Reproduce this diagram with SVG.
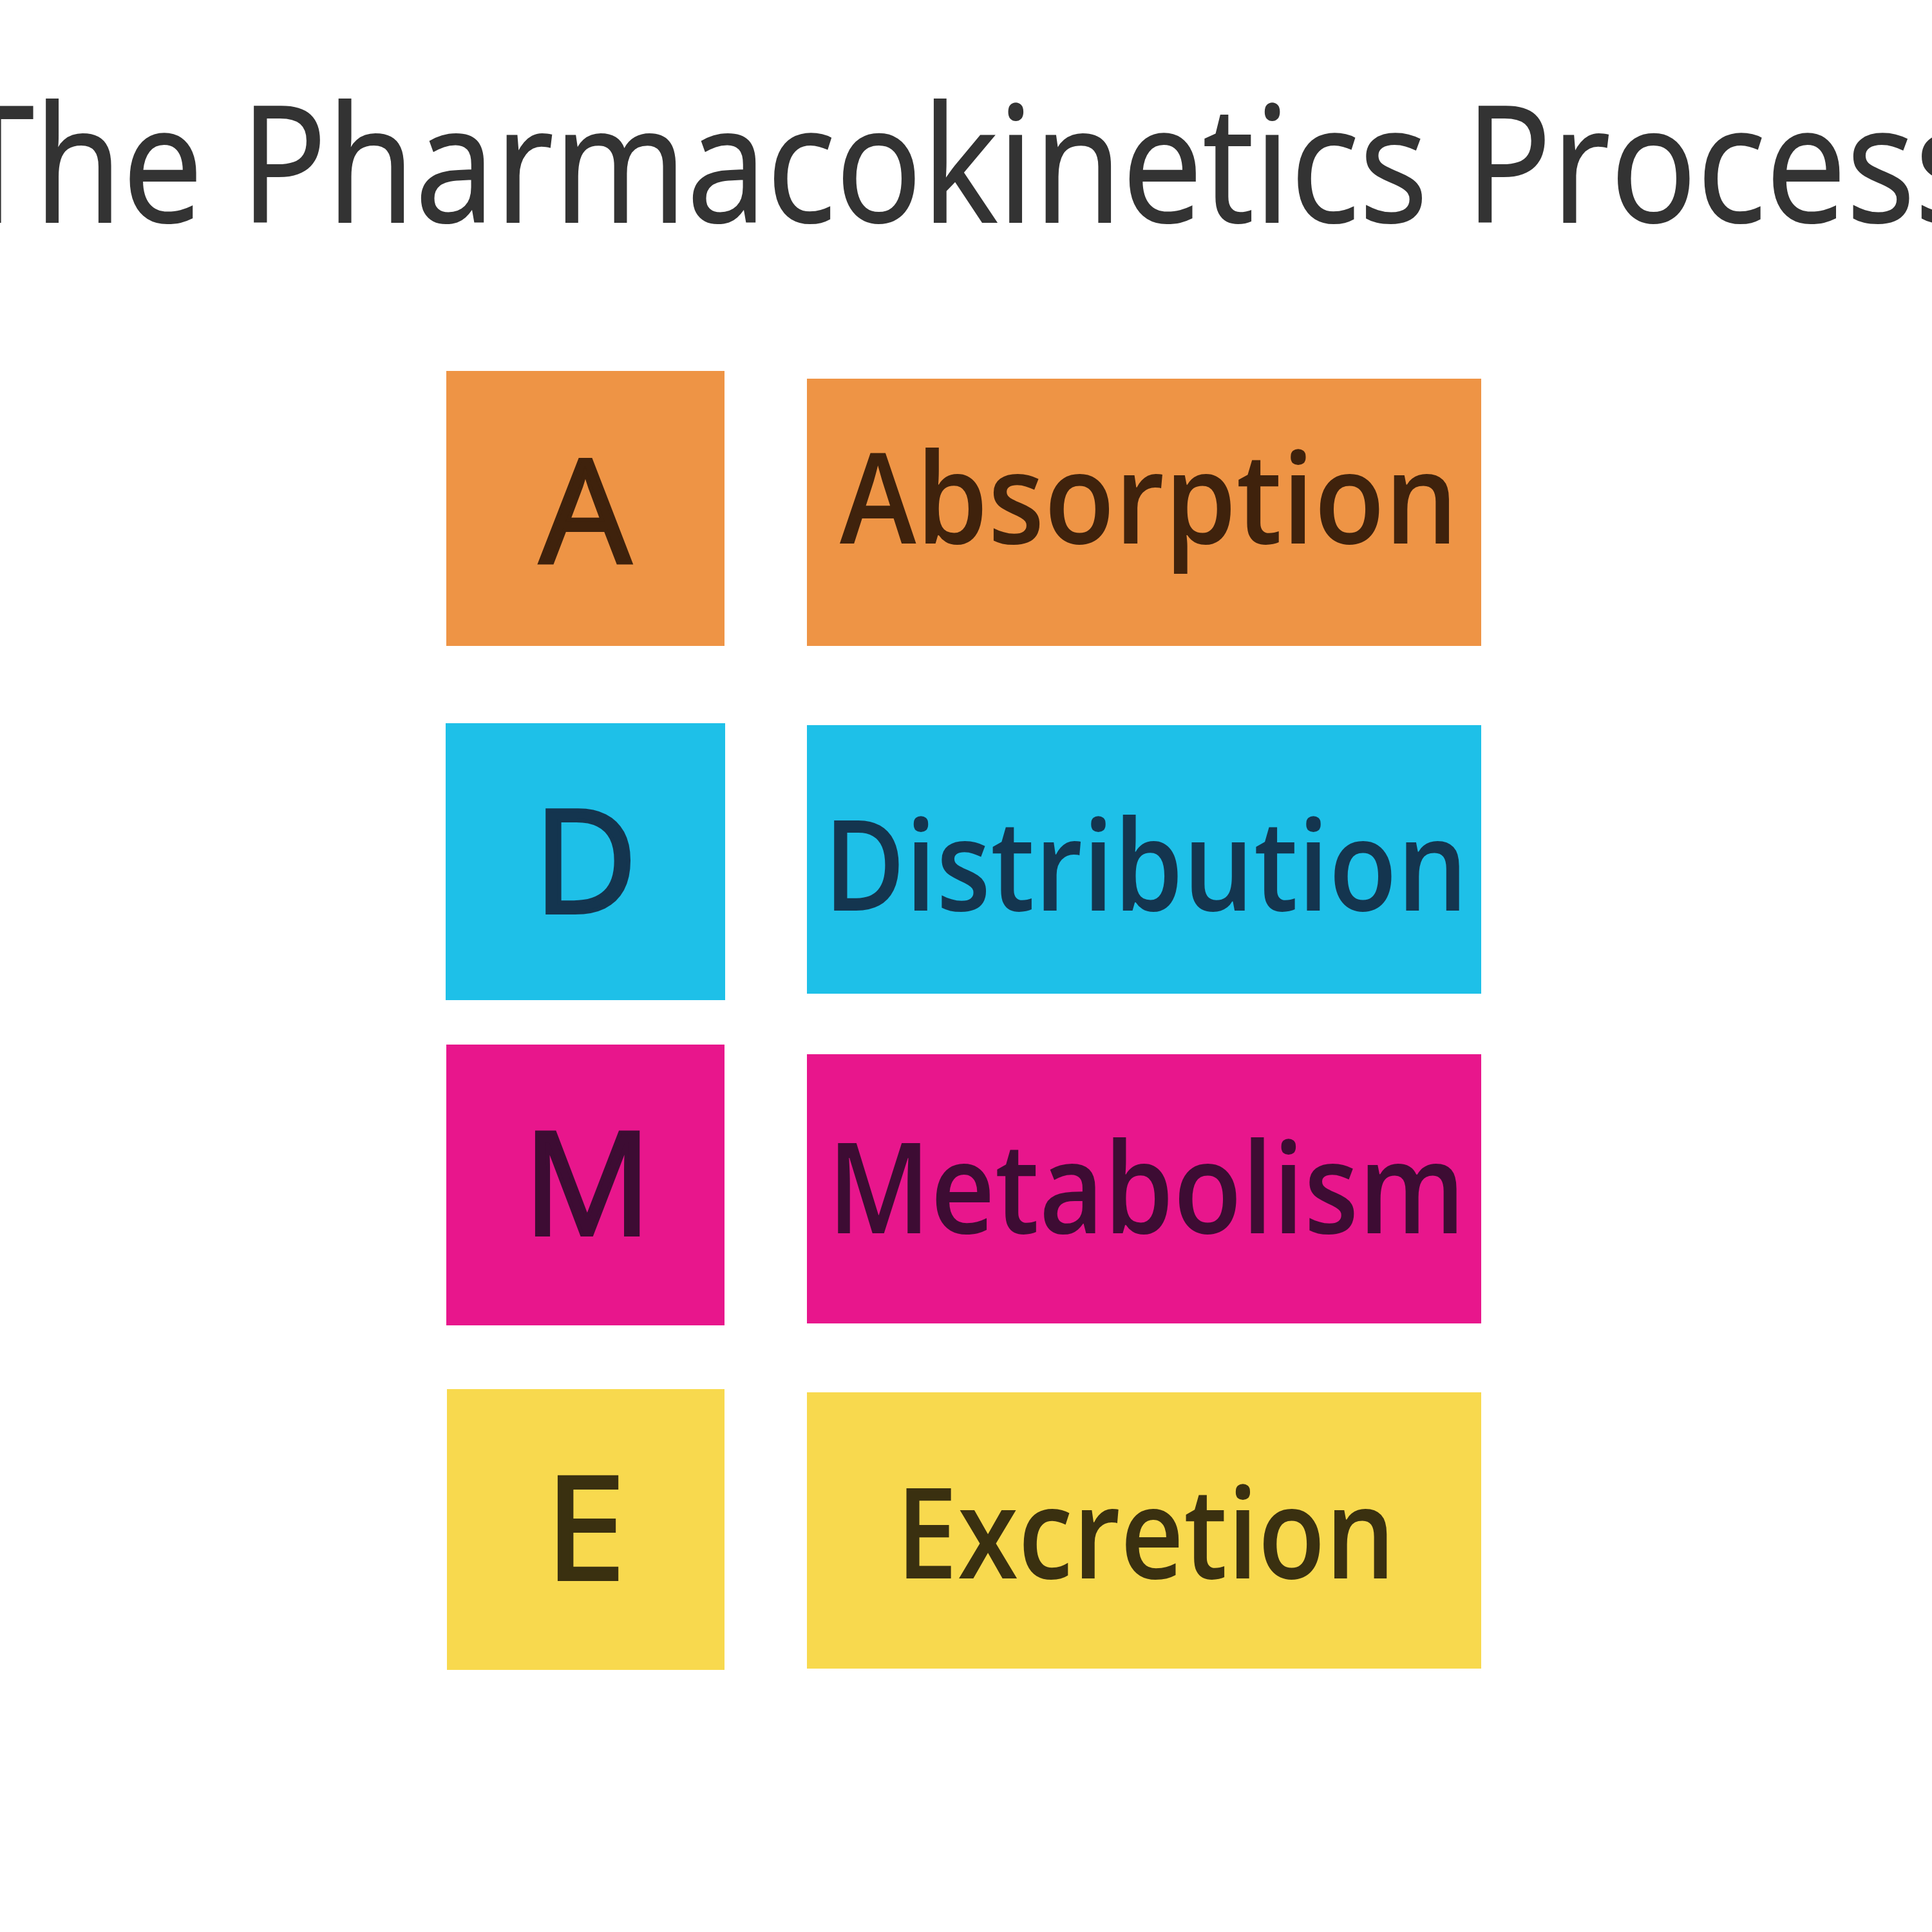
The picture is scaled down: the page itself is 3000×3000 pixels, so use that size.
<svg xmlns="http://www.w3.org/2000/svg" width="3000" height="3000" viewBox="0 0 3000 3000">
  <style>
    .title { font-family: "Open Sans", "Noto Sans", "Liberation Sans", sans-serif; font-size: 252px; fill: #333333; stroke: #333333; stroke-width: 2px; }
    .letter { font-family: "Open Sans", "Noto Sans", "Liberation Sans", sans-serif; font-size: 222px; font-weight: 400; text-anchor: middle; stroke-width: 6px; }
    .label { font-family: "Open Sans", "Noto Sans", "Liberation Sans", sans-serif; font-size: 196px; font-weight: 600; text-anchor: middle; }
    .orange { fill: #EE9445; }
    .cyan { fill: #1EC0E8; }
    .magenta { fill: #E8168C; }
    .yellow { fill: #F8D94E; }
    .tA { fill: #3f220c; stroke: #3f220c; }
    .tD { fill: #14354f; stroke: #14354f; }
    .tM { fill: #3d0c33; stroke: #3d0c33; }
    .tE { fill: #3a3010; stroke: #3a3010; }
    .label.tA, .label.tD, .label.tM, .label.tE { stroke-width: 0; }
  </style>
  <rect x="0" y="0" width="3000" height="3000" fill="#ffffff"/>
  <text class="title" x="-70" y="345" textLength="3150" lengthAdjust="spacingAndGlyphs">The Pharmacokinetics Process</text>

  <g id="node-A-letter">
    <rect class="orange" x="693" y="576" width="432" height="427"/>
    <text class="letter tA" x="909" y="873">A</text>
  </g>
  <g id="node-absorption">
    <rect class="orange" x="1253" y="588" width="1047" height="415"/>
    <text class="label tA" x="1784" y="844" textLength="960" lengthAdjust="spacingAndGlyphs">Absorption</text>
  </g>

  <g id="node-D-letter">
    <rect class="cyan" x="692" y="1123" width="434" height="430"/>
    <text class="letter tD" x="909" y="1417">D</text>
  </g>
  <g id="node-distribution">
    <rect class="cyan" x="1253" y="1126" width="1047" height="417"/>
    <text class="label tD" x="1779" y="1414" textLength="1000" lengthAdjust="spacingAndGlyphs">Distribution</text>
  </g>

  <g id="node-M-letter">
    <rect class="magenta" x="693" y="1622" width="432" height="436"/>
    <text class="letter tM" x="912" y="1917">M</text>
  </g>
  <g id="node-metabolism">
    <rect class="magenta" x="1253" y="1637" width="1047" height="418"/>
    <text class="label tM" x="1780" y="1915" textLength="990" lengthAdjust="spacingAndGlyphs">Metabolism</text>
  </g>

  <g id="node-E-letter">
    <rect class="yellow" x="694" y="2157" width="431" height="436"/>
    <text class="letter tE" x="909" y="2452">E</text>
  </g>
  <g id="node-excretion">
    <rect class="yellow" x="1253" y="2162" width="1047" height="429"/>
    <text class="label tE" x="1779" y="2451" textLength="775" lengthAdjust="spacingAndGlyphs">Excretion</text>
  </g>

  <g id="connectors"></g>
</svg>
